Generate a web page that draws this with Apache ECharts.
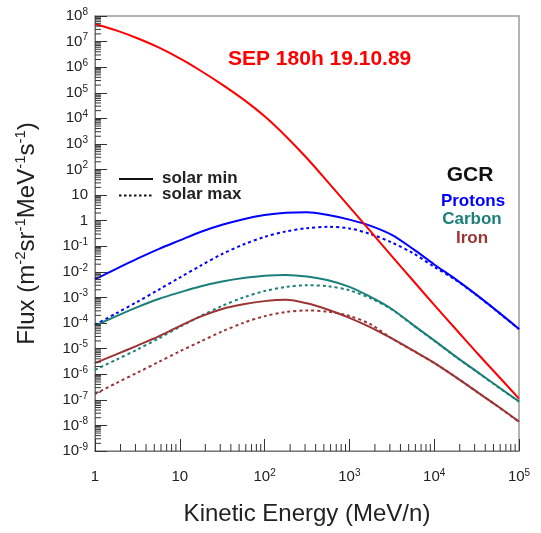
<!DOCTYPE html>
<html>
<head>
<meta charset="utf-8">
<script src="https://cdn.jsdelivr.net/npm/echarts@6/dist/echarts.min.js"></script>
<style>
  html, body { margin: 0; padding: 0; background: #fff; }
  #chart { width: 541px; height: 533px; }
</style>
</head>
<body>
<div id="chart"></div>
<script>
// Kinetic energy grid (MeV/n), quarter-decade steps
const energy = [1, 1.78, 3.16, 5.62, 10, 17.8, 31.6, 56.2, 100, 178, 316, 562,
  1000, 1780, 3160, 5620, 1e4, 1.78e4, 3.16e4, 5.62e4, 1e5];

// Solar energetic particle event spectrum, 180 h fluence
const sep = [4.9e7, 2.75e7, 1.35e7, 5.9e6, 2.19e6, 7.1e5, 2.09e5, 5.5e4, 1.2e4, 2.0e3, 275, 31.6,
  3.47, 0.38, 0.041, 4.6e-3, 5.1e-4, 6.0e-5, 7.1e-6, 8.9e-7, 1.12e-7];

// Galactic cosmic rays, solar minimum / solar maximum
const protonsMin = [5.1e-3, 1.32e-2, 3.3e-2, 7.8e-2, 0.17, 0.37, 0.69, 1.15, 1.66, 2.04, 2.14, 1.66,
  1.10, 0.63, 0.28, 0.079, 0.0195, 5.2e-3, 1.26e-3, 2.8e-4, 5.9e-5];
const protonsMax = [8.5e-5, 2.4e-4, 6.8e-4, 2.0e-3, 6.0e-3, 0.0178, 0.05, 0.117, 0.234, 0.38, 0.51, 0.575,
  0.5, 0.30, 0.141, 0.054, 0.0158, 4.9e-3, 1.23e-3, 2.75e-4, 5.75e-5];
const carbonMin = [7.9e-5, 1.86e-4, 4.2e-4, 8.7e-4, 1.58e-3, 2.75e-3, 4.2e-3, 5.75e-3, 7.1e-3, 7.6e-3, 6.6e-3, 4.7e-3,
  2.6e-3, 1.05e-3, 3.55e-4, 8.5e-5, 2.1e-5, 5.0e-6, 1.29e-6, 3.3e-7, 8.7e-8];
const carbonMax = [1.48e-6, 3.7e-6, 9.3e-6, 2.5e-5, 7.1e-5, 1.9e-4, 4.7e-4, 1.0e-3, 1.78e-3, 2.57e-3, 3.0e-3, 2.75e-3,
  1.9e-3, 9.3e-4, 3.4e-4, 8.3e-5, 2.04e-5, 4.9e-6, 1.26e-6, 3.2e-7, 8.5e-8];
const ironMin = [2.7e-6, 6.0e-6, 1.32e-5, 3.0e-5, 7.6e-5, 1.82e-4, 3.55e-4, 5.4e-4, 7.2e-4, 8.1e-4, 5.9e-4, 3.3e-4,
  1.6e-4, 6.8e-5, 2.5e-5, 8.5e-6, 2.8e-6, 7.9e-7, 2.1e-7, 5.6e-8, 1.41e-8];
const ironMax = [1.7e-7, 4.5e-7, 1.15e-6, 3.0e-6, 7.8e-6, 1.95e-5, 4.7e-5, 1.02e-4, 1.86e-4, 2.7e-4, 3.1e-4, 2.8e-4,
  1.9e-4, 8.9e-5, 2.5e-5, 8.3e-6, 2.75e-6, 7.8e-7, 2.1e-7, 5.5e-8, 1.38e-8];

// Axis ranges (log10 exponents)
const xExp = [0, 5];
const yExp = [-9, 8];

const FONT = '"Liberation Sans", Arial, Helvetica, sans-serif';
const TXT = '#222';
const RED = '#ff0000', BLUE = '#0000ff', TEAL = '#1b7f79', BROWN = '#9b3434';

function zip(xs, ys) { return xs.map((x, i) => [x, ys[i]]); }

function powLabel(v) {
  const e = Math.round(Math.log10(v));
  if (e === 0) return '{b|1}';
  if (e === 1) return '{b|10}';
  return '{b|10}{s|' + e + '}';
}
const tickRich = {
  b: { fontSize: 15, lineHeight: 18, color: TXT, fontFamily: FONT },
  s: { fontSize: 10, lineHeight: 10, color: TXT, fontFamily: FONT, verticalAlign: 'top' }
};

// minor log ticks (2..9 in every decade)
const xMinor = [];
for (let k = xExp[0]; k < xExp[1]; k++) for (let m = 2; m <= 9; m++) xMinor.push([m * Math.pow(10, k), Math.pow(10, yExp[0])]);
const yMinor = [];
for (let k = yExp[0]; k < yExp[1]; k++) for (let m = 2; m <= 9; m++) yMinor.push([Math.pow(10, xExp[0]), m * Math.pow(10, k)]);

function curve(name, data, color, dotted) {
  return {
    type: 'line', name, data: zip(energy, data), showSymbol: false,
    smooth: 0.3,
    silent: true, z: dotted ? 3 : 4,
    lineStyle: { color, width: 2, type: dotted ? [3, 3] : 'solid' }
  };
}

const chart = echarts.init(document.getElementById('chart'), null, { renderer: 'canvas' });
chart.setOption({
  animation: false,
  backgroundColor: '#fff',
  grid: { left: 95, right: 22, top: 16, bottom: 82, show: true, borderColor: '#9a9a9a', borderWidth: 1.5, backgroundColor: 'transparent' },
  xAxis: {
    type: 'log', logBase: 10, min: Math.pow(10, xExp[0]), max: Math.pow(10, xExp[1]), interval: 1,
    name: 'Kinetic Energy (MeV/n)', nameLocation: 'middle', nameGap: 51,
    nameTextStyle: { fontSize: 24, color: TXT, fontFamily: FONT },
    axisLine: { show: true, lineStyle: { color: '#777', width: 1 } },
    axisTick: { show: true, inside: true, length: 12, lineStyle: { color: '#333' } },
    splitLine: { show: false },
    axisLabel: { margin: 17, formatter: powLabel, rich: tickRich, showMinLabel: true, showMaxLabel: true }
  },
  yAxis: {
    type: 'log', logBase: 10, min: Math.pow(10, yExp[0]), max: Math.pow(10, yExp[1]), interval: 1,
    name: '{t|Flux (m}{s|-2}{t|sr}{s|-1}{t|MeV}{s|-1}{t|s}{s|-1}{t|)}',
    nameLocation: 'middle', nameRotate: 90, nameGap: 54,
    nameTextStyle: {
      rich: {
        t: { fontSize: 24, lineHeight: 28, color: TXT, fontFamily: FONT },
        s: { fontSize: 15, lineHeight: 15, color: TXT, fontFamily: FONT, verticalAlign: 'top' }
      }
    },
    axisLine: { show: true, lineStyle: { color: '#777', width: 1 } },
    axisTick: { show: true, inside: true, length: 12, lineStyle: { color: '#333' } },
    splitLine: { show: false },
    axisLabel: { margin: 7, formatter: powLabel, rich: tickRich, showMinLabel: true, showMaxLabel: true }
  },
  series: [
    {
      type: 'custom', silent: true, clip: false, data: xMinor, z: 5,
      renderItem: (params, api) => {
        const p = api.coord([api.value(0), api.value(1)]);
        return { type: 'line', shape: { x1: p[0], y1: p[1], x2: p[0], y2: p[1] - 7 }, style: { stroke: '#333', lineWidth: 1 } };
      }
    },
    {
      type: 'custom', silent: true, clip: false, data: yMinor, z: 5,
      renderItem: (params, api) => {
        const p = api.coord([api.value(0), api.value(1)]);
        return { type: 'line', shape: { x1: p[0], y1: p[1], x2: p[0] + 6, y2: p[1] }, style: { stroke: '#333', lineWidth: 1 } };
      }
    },
    curve('Protons solar max', protonsMax, BLUE, true),
    curve('Carbon solar max', carbonMax, TEAL, true),
    curve('Iron solar max', ironMax, BROWN, true),
    curve('Protons solar min', protonsMin, BLUE, false),
    curve('Carbon solar min', carbonMin, TEAL, false),
    curve('Iron solar min', ironMin, BROWN, false),
    curve('SEP 180h 19.10.89', sep, RED, false)
  ],
  graphic: [
    { type: 'text', left: 228, top: 49, style: { text: 'SEP 180h 19.10.89', fill: RED, font: 'bold 21px ' + FONT } },
    { type: 'line', shape: { x1: 119, y1: 179, x2: 153, y2: 179 }, style: { stroke: '#111', lineWidth: 2 } },
    { type: 'line', shape: { x1: 119, y1: 195.5, x2: 153, y2: 195.5 }, style: { stroke: '#111', lineWidth: 2, lineDash: [2.5, 2.5] } },
    { type: 'text', x: 162, y: 178, style: { text: 'solar min', fill: TXT, font: 'bold 17px ' + FONT, verticalAlign: 'middle' } },
    { type: 'text', x: 162, y: 194, style: { text: 'solar max', fill: TXT, font: 'bold 17px ' + FONT, verticalAlign: 'middle' } },
    { type: 'text', x: 470, y: 175, style: { text: 'GCR', fill: '#111', font: 'bold 21px ' + FONT, align: 'center', verticalAlign: 'middle' } },
    { type: 'text', x: 473, y: 201, style: { text: 'Protons', fill: BLUE, font: 'bold 17px ' + FONT, align: 'center', verticalAlign: 'middle' } },
    { type: 'text', x: 472, y: 219, style: { text: 'Carbon', fill: TEAL, font: 'bold 17px ' + FONT, align: 'center', verticalAlign: 'middle' } },
    { type: 'text', x: 472, y: 238, style: { text: 'Iron', fill: BROWN, font: 'bold 17px ' + FONT, align: 'center', verticalAlign: 'middle' } }
  ]
});
</script>
</body>
</html>
